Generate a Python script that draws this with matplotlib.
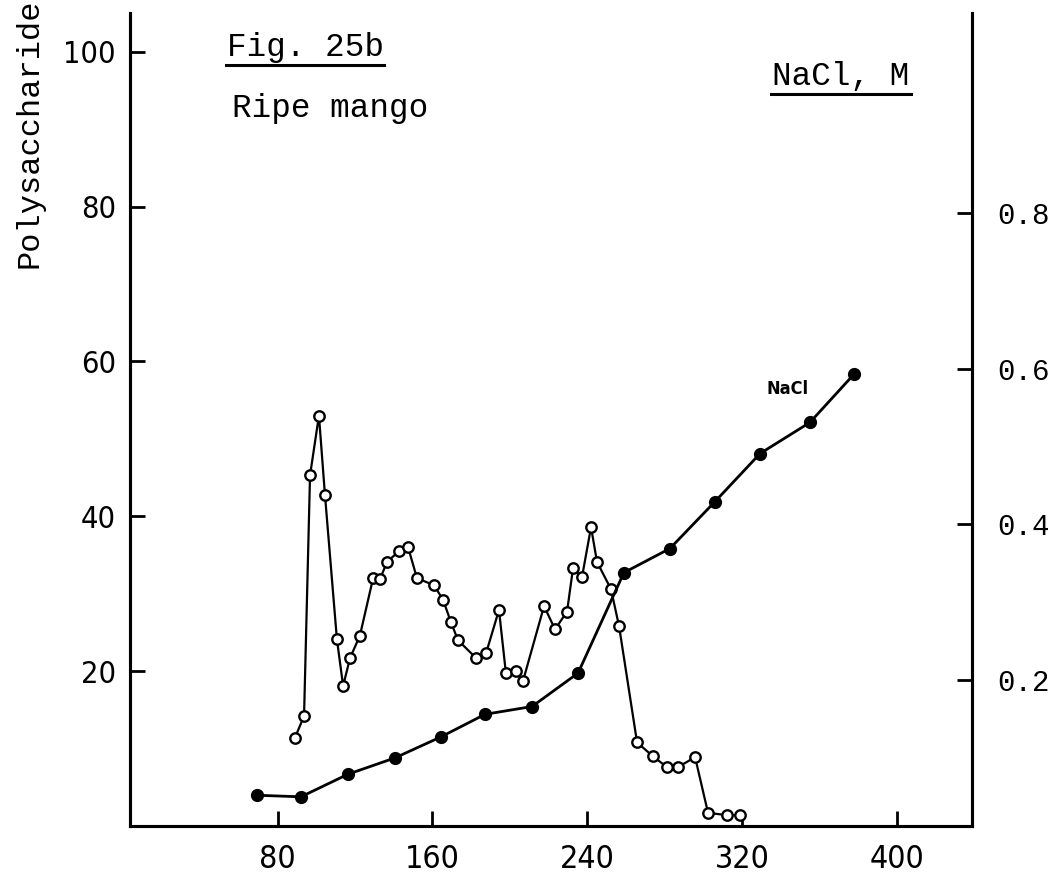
import matplotlib
matplotlib.use("Agg")
import matplotlib.pyplot as plt
from matplotlib.lines import Line2D

# Polysaccharide elution profile (open circles)
poly_x = [88.9, 93.6, 96.7, 101.3, 104.4, 110.6, 113.8, 117.4, 122.5, 129.3,
          132.9, 136.5, 142.7, 147.4, 152.0, 160.8, 165.5, 169.6, 173.2, 182.5,
          187.7, 194.4, 198.0, 203.2, 206.8, 217.7, 223.4, 229.6, 232.7, 237.3,
          242.0, 245.1, 252.3, 256.5, 265.8, 274.0, 281.3, 287.0, 295.8, 302.5,
          312.3, 319.0]
poly_y = [11.4, 14.2, 45.3, 53.0, 42.8, 24.1, 18.1, 21.7, 24.6, 32.0,
          31.9, 34.1, 35.5, 36.0, 32.0, 31.1, 29.2, 26.3, 24.0, 21.7,
          22.3, 27.9, 19.7, 20.0, 18.7, 28.4, 25.4, 27.7, 33.3, 32.1,
          38.6, 34.1, 30.6, 25.8, 10.8, 9.0, 7.6, 7.6, 8.9, 1.7,
          1.4, 1.4]

# NaCl gradient (filled circles)
nacl_x = [69.3, 92.0, 116.3, 140.6, 164.4, 187.2, 211.5, 235.3, 259.0, 282.8,
          306.0, 329.4, 355.2, 378.0]
nacl_y = [0.052, 0.050, 0.079, 0.100, 0.127, 0.156, 0.166, 0.209, 0.338, 0.369,
          0.429, 0.491, 0.531, 0.593]

left_ticks = [20, 40, 60, 80, 100]
right_ticks = [0.2, 0.4, 0.6, 0.8]
x_ticks = [80, 160, 240, 320, 400]

W, H = 1058, 873
fig = plt.figure(figsize=(W / 100, H / 100), dpi=100)
ax = fig.add_axes([130 / W, 1 - 826 / H, (972 - 130) / W, (826 - 13) / H])
ax2 = ax.twinx()

mono = "Liberation Mono"
sans = "DejaVu Sans"

# data
ax.plot(poly_x, poly_y, color="black", lw=1.6, marker="o", ms=7.5,
        mfc="white", mec="black", mew=1.7, zorder=3)
ax2.plot(nacl_x, nacl_y, color="black", lw=2.0, marker="o", ms=8.5,
         mfc="black", mec="black", zorder=4)

ax.set_xlim(3.6, 439)
ax.set_ylim(0, 105)
ax2.set_ylim(0.0125, 1.057)

for a in (ax, ax2):
    for s in a.spines.values():
        s.set_linewidth(2.2)
    a.spines["top"].set_visible(False)

ax.set_xticks(x_ticks)
ax.set_yticks(left_ticks)
ax2.set_yticks(right_ticks)
ax.set_xticklabels([str(t) for t in x_ticks], family=sans, fontsize=23,
                   fontstretch="condensed")
ax.set_yticklabels([str(t) for t in left_ticks], family=sans, fontsize=22,
                   fontstretch="condensed")
ax2.set_yticklabels([f"{t:.1f}" for t in right_ticks], family=mono, fontsize=21)
ax.tick_params(axis="x", direction="in", length=11, width=2, pad=13)
ax.tick_params(axis="y", direction="in", length=11, width=2, pad=10)
ax2.tick_params(axis="y", direction="in", length=11, width=2, pad=18)

# labels
fig.text(30 / W, 1 - 268 / H, "Polysaccharide", rotation=90, ha="center",
         va="bottom", family=mono, fontsize=23)
fig.text(227 / W, 1 - 56 / H, "Fig. 25b", family=mono, fontsize=23.5,
         ha="left", va="baseline")
fig.add_artist(Line2D([226 / W, 384 / W], [1 - 65 / H, 1 - 65 / H],
                      color="black", lw=2.2))
fig.text(232 / W, 1 - 117 / H, "Ripe mango", family=mono, fontsize=23.5,
         ha="left", va="baseline")
fig.text(772 / W, 1 - 85 / H, "NaCl, M", family=mono, fontsize=23.5,
         ha="left", va="baseline")
fig.add_artist(Line2D([771 / W, 911 / W], [1 - 94 / H, 1 - 94 / H],
                      color="black", lw=2.2))
ax2.annotate("NaCl", xy=(nacl_x[-1], nacl_y[-1]), xytext=(-48, -11),
             textcoords="offset points", fontsize=13, fontweight="bold",
             family=sans, fontstretch="condensed", ha="center", va="center")

fig.savefig("out.png", dpi=100)
